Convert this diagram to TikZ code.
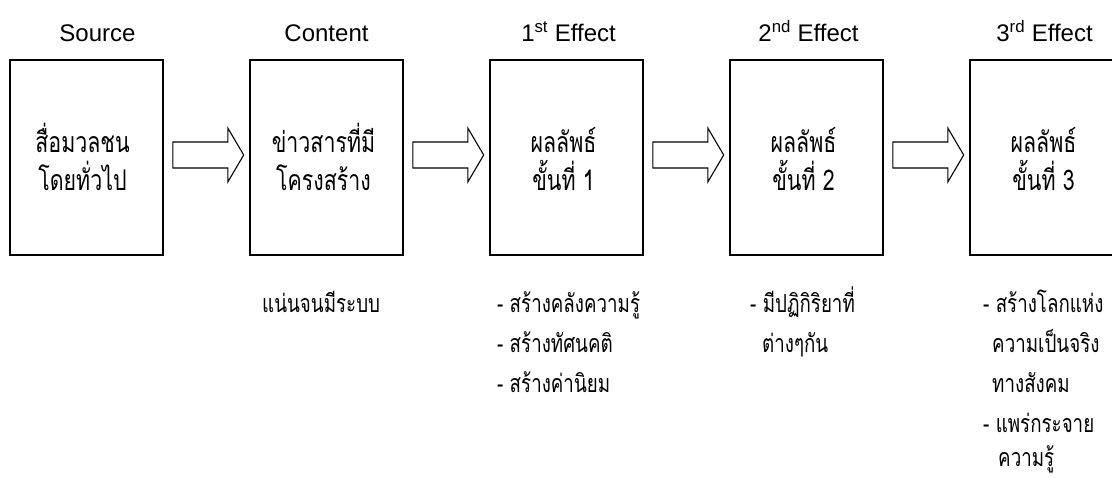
\documentclass[tikz,border=0pt]{standalone}
\usepackage{fontspec}
\setmainfont{Liberation Sans}
\newfontfamily\thaifont[Script=Thai,FakeStretch=0.75]{Loma}
\usetikzlibrary{calc}
\begin{document}
\begin{tikzpicture}[x=1pt,y=-1pt,
  stage/.style={draw, line width=1.6pt, minimum width=153pt, minimum height=195pt, inner sep=0pt},
  boxline/.style={font=\thaifont\fontsize{28.5}{34}\selectfont, anchor=base, inner sep=0pt},
  title/.style={font=\fontsize{24}{28}\selectfont, anchor=base, inner sep=0pt},
  note/.style={font=\thaifont\fontsize{25}{30}\selectfont, anchor=base west, inner sep=0pt},
  blockarrow/.style={draw, line width=1.1pt, line join=miter}
]
\clip (0,0) rectangle (1112,477);
\node[stage] (b1) at (86.5,157.5) {};
\node[stage] (b2) at (326.5,157.5) {};
\node[stage] (b3) at (566.5,157.5) {};
\node[stage] (b4) at (806.5,157.5) {};
\node[stage] (b5) at (1046.5,157.5) {};

\node[boxline] (b1a) at ($(b1.center)+(-4,-5.5)$) {สื่อมวลชน};
\node[boxline] (b1b) at ($(b1.center)+(-4,32.5)$) {โดยทั่วไป};
\node[boxline] (b2a) at ($(b2.center)+(-3,-5.5)$) {ข่าวสารที่มี};
\node[boxline] (b2b) at ($(b2.center)+(-3,32.5)$) {โครงสร้าง};
\node[boxline] (b3a) at ($(b3.center)+(-3,-5.5)$) {ผลลัพธ์};
\node[boxline] (b3b) at ($(b3.center)+(-3,32.5)$) {ขั้นที่ 1};
\node[boxline] (b4a) at ($(b4.center)+(-3,-5.5)$) {ผลลัพธ์};
\node[boxline] (b4b) at ($(b4.center)+(-3,32.5)$) {ขั้นที่ 2};
\node[boxline] (b5a) at ($(b5.center)+(-3,-5.5)$) {ผลลัพธ์};
\node[boxline] (b5b) at ($(b5.center)+(-3,32.5)$) {ขั้นที่ 3};

\node[title] (t1) at ($(b1.north)+(11,-18)$) {Source};
\node[title] (t2) at ($(b2.north)+(0,-18)$) {Content};
\node[title] (t3) at ($(b3.north)+(2,-18)$) {1\textsuperscript{st} Effect};
\node[title] (t4) at ($(b4.north)+(2,-18)$) {2\textsuperscript{nd} Effect};
\node[title] (t5) at ($(b5.north)+(-2,-18)$) {3\textsuperscript{rd} Effect};

\foreach \a/\b in {b1/b2,b2/b3,b3/b4,b4/b5}{
  \draw[blockarrow] ($(\a.east)+(9,-15.5)$) -- ($(\a.east)+(64,-15.5)$) -- ($(\a.east)+(64,-29.5)$)
    -- ($(\b.west)+(-5.5,-2.5)$) -- ($(\a.east)+(64,24.5)$) -- ($(\a.east)+(64,10.5)$)
    -- ($(\a.east)+(9,10.5)$) -- cycle;
}

\node[note] (n2a) at (262,312) {แน่นจนมีระบบ};
\node[note] (n3a) at (497,312) {- สร้างคลังความรู้};
\node[note] (n3b) at (497,352) {- สร้างทัศนคติ};
\node[note] (n3c) at (497,392) {- สร้างค่านิยม};
\node[note] (n4a) at (750,312) {- มีปฏิกิริยาที่};
\node[note] (n4b) at (762,352) {ต่างๆกัน};
\node[note] (n5a) at (983,312) {- สร้างโลกแห่ง};
\node[note] (n5b) at (992,352) {ความเป็นจริง};
\node[note] (n5c) at (992,392) {ทางสังคม};
\node[note] (n5d) at (983,432) {- แพร่กระจาย};
\node[note] (n5e) at (998,466) {ความรู้};
\end{tikzpicture}
\end{document}
